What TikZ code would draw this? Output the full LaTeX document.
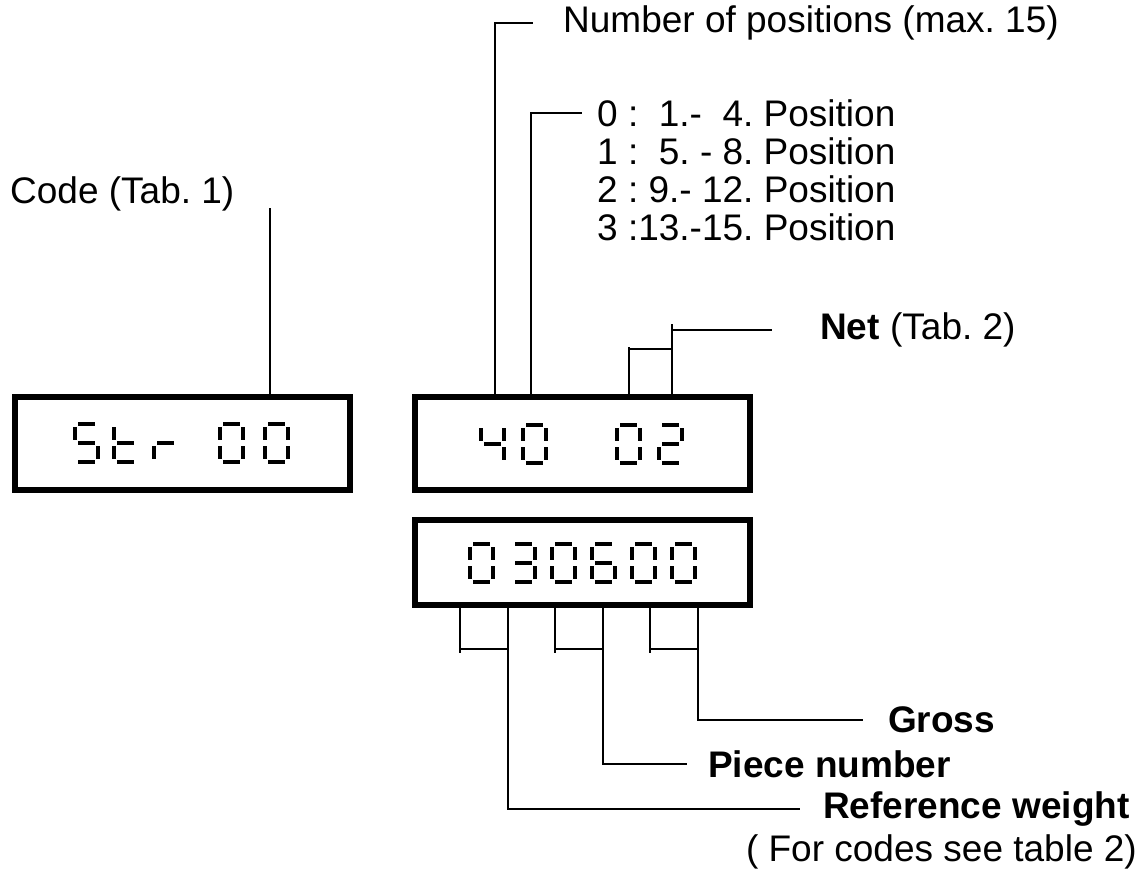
\documentclass[tikz,border=0pt]{standalone}
\usepackage{fontspec}
\setmainfont{Liberation Sans}
\usetikzlibrary{positioning}
\frenchspacing

% segments of one LCD digit (27 x 42), top left at the origin
\def\lcdsega{(5,0) rectangle (22,4)}
\def\lcdsegb{(23,5) rectangle (27,18)}
\def\lcdsegc{(23,24) rectangle (27,37)}
\def\lcdsegd{(5,38) rectangle (22,42)}
\def\lcdsege{(0,24) rectangle (4,37)}
\def\lcdsegf{(0,5) rectangle (4,18)}
\def\lcdsegg{(5,19) rectangle (22,23)}
\newcommand{\lcddigit}[3]{%
  \begin{scope}[shift={(#1,#2)}]
    \foreach \s in {#3} {\fill \csname lcdseg\s\endcsname;}
  \end{scope}}

\begin{document}
\begin{tikzpicture}[x=1pt, y=-1pt,
  font=\fontsize{37}{42}\selectfont,
  lcd/.style={draw, line width=5.7pt, minimum width=335pt, minimum height=93pt, inner sep=0pt},
  lead/.style={line width=1.7pt},
  note/.style={anchor=west, inner sep=0pt}]
  \useasboundingbox (0,0) rectangle (1145,875);

  % displays
  \node[lcd] (mode) at (182.5,443.5) {};
  \node[lcd] (posn) at (582.5,443.5) {};
  \node[lcd, minimum height=85pt] (value) at (582.5,562.5) {};

  % Str 00
  \lcddigit{73}{422}{a,f,g,c,d}
  \lcddigit{112}{422}{f,e,g,d}
  \lcddigit{152}{422}{e,g}
  \lcddigit{218}{422}{a,b,c,d,e,f}
  \lcddigit{263}{422}{a,b,c,d,e,f}
  % 40 02
  \lcddigit{479}{423}{f,g,b,c}
  \lcddigit{521}{423}{a,b,c,d,e,f}
  \lcddigit{615}{423}{a,b,c,d,e,f}
  \lcddigit{657}{423}{a,b,g,e,d}
  % 030600
  \lcddigit{468}{542}{a,b,c,d,e,f}
  \lcddigit{510}{542}{a,b,g,c,d}
  \lcddigit{550}{542}{a,b,c,d,e,f}
  \lcddigit{590}{542}{a,f,g,e,c,d}
  \lcddigit{630}{542}{a,b,c,d,e,f}
  \lcddigit{670}{542}{a,b,c,d,e,f}

  % texts
  \node[note] (code) at (10,194) {Code (Tab. 1)};
  \node[note] (count) at (563,23) {Number of positions (max. 15)};
  \foreach \i/\t in {0/{0 :\ \ 1.-\ \ 4. Position}, 1/{1 :\ \ 5. - 8. Position},
                     2/{2 : 9.- 12. Position}, 3/{3 :13.-15. Position}}
    \node[note] (r\i) at (597,113+38*\i) {\t};
  \node[note] (net) at (820,330) {\textbf{Net} (Tab. 2)};
  \node[note] (gross) at (888,720) {\textbf{Gross}};
  \node[note] (piece) at (708,764) {\textbf{Piece number}};
  \node[note] (ref) at (823,809) {\textbf{Reference weight}};
  \node[anchor=east, inner sep=0pt] (see) at (1137,852) {( For codes see table 2)};

  % taps on the displays
  \coordinate (codeend) at (270,208);
  \coordinate (tapN) at ([xshift=83pt]posn.north west);
  \coordinate (tapR) at ([xshift=119pt]posn.north west);
  \coordinate (tapA) at ([xshift=217pt]posn.north west);
  \coordinate (tapB) at ([xshift=260pt]posn.north west);
  \foreach \n/\dx in {1/48, 2/96, 3/143, 4/191, 5/238, 6/286}
    \coordinate (bot\n) at ([xshift=\dx pt]value.south west);

  % leaders
  \draw[lead] (codeend) -- (codeend |- mode.north);
  \draw[lead] (tapN) |- ([xshift=-30pt]count.west);
  \draw[lead] (tapR) |- ([xshift=-15pt]r0.west);
  \draw[lead] (tapA) -- ++(0,-47);
  \draw[lead] ([yshift=45pt]tapA) -| (tapB);
  \draw[lead] (tapB) -- ++(0,-70);
  \draw[lead] (tapB) |- ([xshift=-48pt]net.west);
  \foreach \a/\b in {bot1/bot2, bot3/bot4, bot5/bot6} {
    \draw[lead] (\a) -- ++(0,45);
    \draw[lead] ([yshift=-41pt]\a) -| (\b);
  }
  \draw[lead] (bot6) |- ([xshift=-25pt]gross.west);
  \draw[lead] (bot4) |- ([xshift=-21pt]piece.west);
  \draw[lead] (bot2) |- ([xshift=-23pt]ref.west);
\end{tikzpicture}
\end{document}
